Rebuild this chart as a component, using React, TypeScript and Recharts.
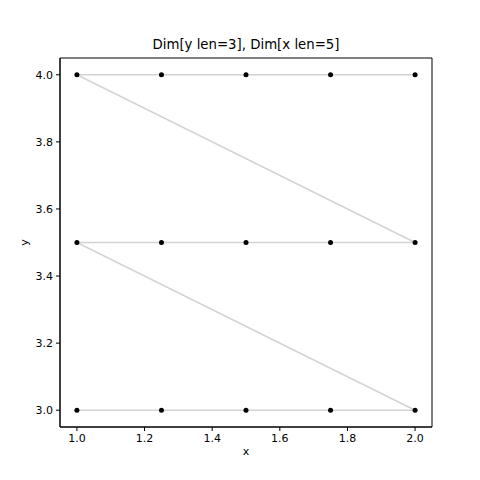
import React from 'react';
import { ComposedChart, Line, XAxis, YAxis, ReferenceArea } from 'recharts';

const xValues = [1.0, 1.25, 1.5, 1.75, 2.0, 1.0, 1.25, 1.5, 1.75, 2.0, 1.0, 1.25, 1.5, 1.75, 2.0];
const yValues = [3.0, 3.0, 3.0, 3.0, 3.0, 3.5, 3.5, 3.5, 3.5, 3.5, 4.0, 4.0, 4.0, 4.0, 4.0];
const xTicks = [1.0, 1.2, 1.4, 1.6, 1.8, 2.0];
const yTicks = [3.0, 3.2, 3.4, 3.6, 3.8, 4.0];
const xDomain = [0.95, 2.05];
const yDomain = [2.95, 4.05];
const title = 'Dim[y len=3], Dim[x len=5]';

const data = xValues.map((x, i) => ({ x, y: yValues[i] }));

const font = 'DejaVu Sans, sans-serif';
const tickStyle = { fontSize: 11, fill: '#000', fontFamily: font };

const Dot = (props: any) => {
  const { cx, cy } = props;
  if (cx == null || cy == null) return null;
  return <circle cx={cx} cy={cy} r={2.5} fill="#000" stroke="none" />;
};

export default function App() {
  return (
    <div style={{ position: 'fixed', left: 0, top: 0, width: 480, height: 480, background: '#fff' }}>
      <div
        style={{
          position: 'absolute',
          left: 60,
          width: 372,
          top: 37,
          textAlign: 'center',
          fontFamily: font,
          fontSize: 13.3,
          lineHeight: '16px',
          color: '#000',
        }}
      >
        {title}
      </div>
      <ComposedChart
        width={480}
        height={480}
        data={data}
        margin={{ top: 58, right: 48, bottom: 0, left: 0 }}
      >
        <XAxis
          type="number"
          dataKey="x"
          domain={xDomain}
          ticks={xTicks}
          tickFormatter={(v: number) => v.toFixed(1)}
          allowDataOverflow
          height={53}
          stroke="#000"
          tickSize={4}
          tickMargin={3}
          tick={tickStyle}
          label={{ value: 'x', position: 'insideBottom', offset: 25, style: { fontSize: 11, fontFamily: font, fill: '#000' } }}
        />
        <YAxis
          type="number"
          domain={yDomain}
          ticks={yTicks}
          tickFormatter={(v: number) => v.toFixed(1)}
          allowDataOverflow
          width={60}
          stroke="#000"
          tickSize={4}
          tickMargin={3}
          tick={tickStyle}
          label={{ value: 'y', angle: -90, position: 'insideLeft', offset: 24, style: { fontSize: 11, fontFamily: font, fill: '#000', textAnchor: 'middle' } }}
        />
        <ReferenceArea
          x1={xDomain[0]}
          x2={xDomain[1]}
          y1={yDomain[0]}
          y2={yDomain[1]}
          fill="none"
          fillOpacity={0}
          stroke="#000"
          strokeWidth={1}
          ifOverflow="visible"
        />
        <Line
          type="linear"
          dataKey="y"
          stroke="#d3d3d3"
          strokeWidth={1.5}
          dot={<Dot />}
          activeDot={false}
          isAnimationActive={false}
        />
      </ComposedChart>
    </div>
  );
}
